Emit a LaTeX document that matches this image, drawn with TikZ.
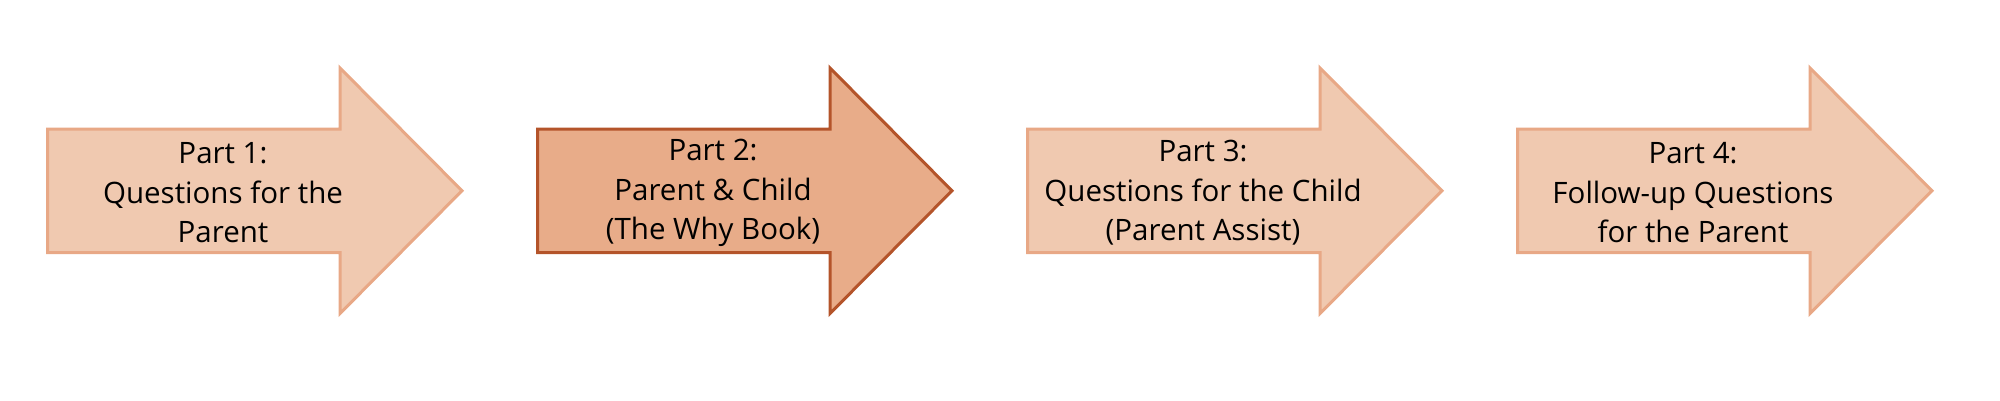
\documentclass[tikz,border=0pt]{standalone}
\usepackage{fontspec}
\setmainfont{Open Sans}
\definecolor{lightfill}{RGB}{240,201,176}
\definecolor{lightline}{RGB}{232,168,134}
\definecolor{darkfill}{RGB}{232,172,137}
\definecolor{darkline}{RGB}{180,84,42}
\begin{document}
\begin{tikzpicture}[x=1pt,y=1pt,
  lightarrow/.style={fill=lightfill,draw=lightline,line width=3pt,line join=miter},
  darkarrow/.style={fill=darkfill,draw=darkline,line width=3pt,line join=miter},
  arrowtext/.style={align=center,font=\fontsize{29.5}{39.5}\selectfont,text=black,inner sep=0pt}]
\useasboundingbox (0,0) rectangle (2000,400);
% arrow polygons: left x, head x = left+294, tip = left+416
\newcommand{\stepshape}[2]{%
  \draw[#2] (#1+1.5,271) -- (#1+294,271) -- (#1+294,332) -- (#1+416,209.25)
    -- (#1+294,86.5) -- (#1+294,147.5) -- (#1+1.5,147.5) -- cycle;}
\stepshape{46}{lightarrow}
\stepshape{536}{darkarrow}
\stepshape{1026}{lightarrow}
\stepshape{1516}{lightarrow}
\node[arrowtext] (p1) at (223,207) {Part 1:\\Questions for the\\Parent};
\node[arrowtext] (p2) at (713,207) {Part 2:\\Parent \& Child\\(The Why Book)};
\node[arrowtext] (p3) at (1203,207) {Part 3:\\Questions for the Child\\(Parent Assist)};
\node[arrowtext] (p4) at (1693,207) {Part 4:\\Follow-up Questions\\for the Parent};
\end{tikzpicture}
\end{document}
